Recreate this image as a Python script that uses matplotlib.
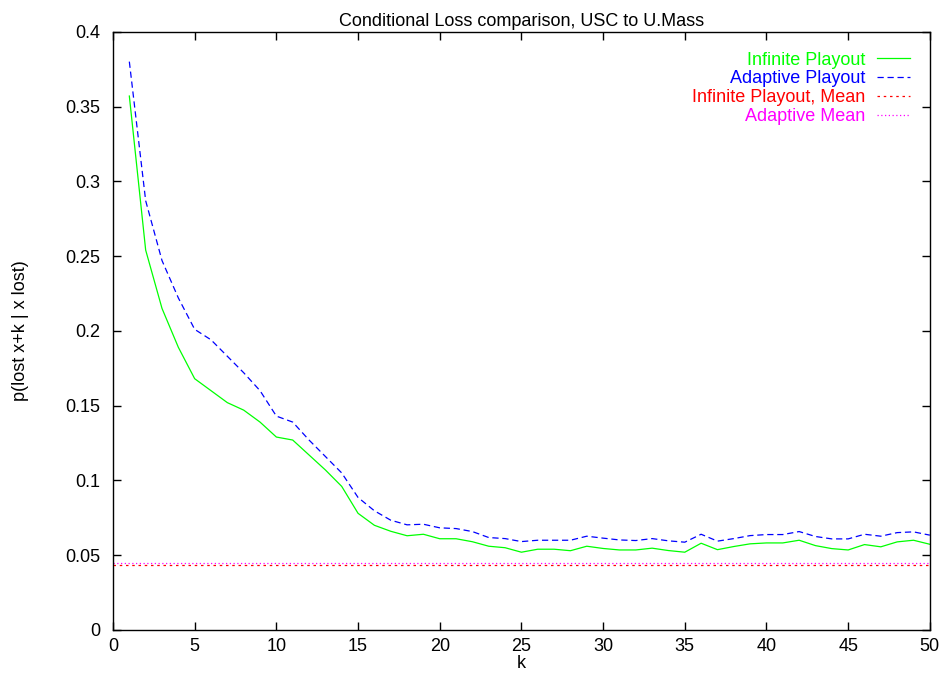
import matplotlib
matplotlib.use('Agg')
import matplotlib.pyplot as plt
import numpy as np

plt.rcParams['font.family'] = ['Liberation Sans', 'DejaVu Sans']

k = np.arange(1, 51)

infinite_playout = [0.357, 0.254, 0.215, 0.189, 0.168, 0.160, 0.152, 0.147, 0.139, 0.129,
                    0.127, 0.117, 0.107, 0.096, 0.078, 0.070, 0.066, 0.063, 0.064, 0.061,
                    0.061, 0.059, 0.056, 0.055, 0.052, 0.054, 0.054, 0.053, 0.056, 0.0545,
                    0.0535, 0.0535, 0.0547, 0.0531, 0.052, 0.058, 0.0537, 0.0558, 0.0576, 0.0582,
                    0.0582, 0.060, 0.0564, 0.0544, 0.0535, 0.0571, 0.0556, 0.0589, 0.060, 0.0573]

adaptive_playout = [0.380, 0.287, 0.247, 0.222, 0.201, 0.194, 0.183, 0.172, 0.160, 0.143,
                    0.139, 0.127, 0.116, 0.105, 0.0886, 0.0797, 0.0734, 0.0703, 0.0707, 0.0683,
                    0.0678, 0.0658, 0.0618, 0.0611, 0.0591, 0.0600, 0.0600, 0.0600, 0.0627, 0.0614,
                    0.0602, 0.0598, 0.0611, 0.0596, 0.0587, 0.0640, 0.0594, 0.0611, 0.0631, 0.0638,
                    0.0638, 0.0658, 0.0625, 0.0609, 0.0609, 0.0640, 0.0627, 0.0651, 0.0656, 0.0634]

infinite_mean = 0.0437
adaptive_mean = 0.045

fig = plt.figure(figsize=(9.44, 6.75), dpi=100)
ax = fig.add_axes([0.1197, 0.0667, 0.8653, 0.8863])

ax.plot(k, infinite_playout, color='#00ff00', lw=0.9, label='Infinite Playout')
ax.plot(k, adaptive_playout, color='#0000ff', lw=0.9, dashes=(5, 3), label='Adaptive Playout')
ax.plot([0, 50], [infinite_mean] * 2, color='#ff0000', lw=0.9, dashes=(2, 3),
        label='Infinite Playout, Mean')
ax.plot([0, 50], [adaptive_mean] * 2, color='#ff00ff', lw=0.9, dashes=(1, 2),
        label='Adaptive Mean')

ax.set_xlim(0, 50)
ax.set_ylim(0, 0.4)
ax.set_xticks(np.arange(0, 51, 5))
ax.set_yticks(np.arange(0, 0.41, 0.05))
ax.set_yticklabels(['0', '0.05', '0.1', '0.15', '0.2', '0.25', '0.3', '0.35', '0.4'])
ax.tick_params(direction='in', length=6, width=1, top=True, right=True, labelsize=13)
ax.tick_params(axis='y', pad=9)
ax.tick_params(axis='x', pad=6)
for s in ax.spines.values():
    s.set_linewidth(1.0)

ax.set_title('Conditional Loss comparison, USC to U.Mass', fontsize=13, pad=4)
ax.set_xlabel('k', fontsize=13, labelpad=0)
ax.set_ylabel('p(lost x+k | x lost)', fontsize=13, labelpad=26)

ax.legend(loc='upper right', frameon=False, markerfirst=False, fontsize=13,
          labelcolor='linecolor', handlelength=1.8, handletextpad=0.65,
          labelspacing=0.1, borderaxespad=0.5, borderpad=0.6)

fig.savefig('out.png', dpi=100)
